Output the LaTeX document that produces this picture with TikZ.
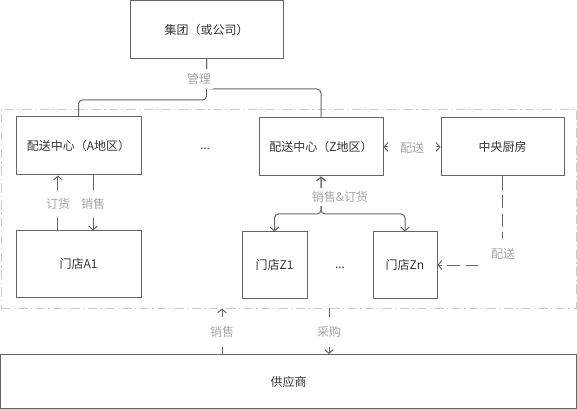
\documentclass[tikz,border=0pt]{standalone}
\usepackage{fontspec}
\setmainfont{Noto Sans CJK SC}
\usepackage{xcolor}
\usetikzlibrary{arrows.meta}
\definecolor{boxline}{HTML}{666666}
\definecolor{txt}{HTML}{333333}
\definecolor{lbl}{HTML}{A6A6A6}
\definecolor{zone}{HTML}{CCCCCC}

\begin{document}
\begin{tikzpicture}[x=0.75pt,y=-0.75pt,
    box/.style={draw=boxline,line width=0.75pt,inner sep=0pt,text=txt,
      font=\fontsize{9}{11}\selectfont,minimum height=43.5pt},
    tag/.style={fill=white,text=lbl,font=\fontsize{9}{11}\selectfont,inner xsep=1.5pt},
    link/.style={draw=boxline,line width=0.75pt},
    >={Straight Barb[length=2.8pt,width=6.5pt]}]
  \useasboundingbox (0,0) rectangle (577,409);
  % region of the distribution network
  \node[draw=zone,line width=0.75pt,dash pattern=on 7pt off 2.5pt on 1pt off 2.5pt,
    minimum width=431.25pt,minimum height=148.5pt] (R) at (288.5,209) {};
  \node[box,minimum width=114.75pt] (G) at (206.5,29.5) {集团（或公司）};
  \node[box,minimum width=93.75pt] (A) at (78.5,146) {配送中心（A地区）};
  \node[box,minimum width=93pt] (Z) at (321,147) {配送中心（Z地区）};
  \node[box,minimum width=92.25pt] (K) at (502.5,147) {中央厨房};
  \node[box,minimum width=93.75pt,minimum height=49.5pt] (A1) at (78.5,264) {门店A1};
  \node[box,minimum width=48.75pt,minimum height=49.5pt] (Z1) at (274.5,265) {门店Z1};
  \node[box,minimum width=48pt,minimum height=49.5pt] (Zn) at (405,265) {门店Zn};
  \node[box,minimum width=432pt,minimum height=40.5pt] (S) at (288.5,381.5) {供应商};
  \node[text=txt,font=\fontsize{9}{11}\selectfont] (d1) at (205,149) {...};
  \node[text=txt,font=\fontsize{9}{11}\selectfont] (d2) at (340,268) {...};
  % connectors
  \coordinate (ga) at (206.5,100);
  \coordinate (gz) at (206.5,89);
  \coordinate (zj) at (321,214);
  \coordinate (s1) at (222,354);
  \coordinate (s2) at (329,308);
  \draw[link,rounded corners=3pt] (G.south) -- (ga) -| (A.north);
  \draw[link,rounded corners=3pt] (G.south) -- (gz) -| (Z.north);
  \draw[link,->] ([xshift=-15.4pt]A1.north) -- ([xshift=-15.4pt]A.south);
  \draw[link,->] ([xshift=10.9pt]A.south) -- ([xshift=10.9pt]A1.north);
  \draw[link,<->,rounded corners=3pt] (Z.south) -- (zj) -| (Z1.north);
  \draw[link,<->,rounded corners=3pt] (Z.south) -- (zj) -| (Zn.north);
  \draw[link,<->] (Z.east) -- (K.west);
  \draw[link,->,dash pattern=on 10pt off 4pt] (K.south) |- (Zn.east);
  \draw[link,->] (s1) -- (s1 |- R.south);
  \draw[link,->] (s2) -- (s2 |- S.north);
  % labels
  \node[tag,inner ysep=3pt] (t1) at (199,79) {管理};
  \node[tag,inner ysep=6pt] (t2) at (58,204) {订货};
  \node[tag,inner ysep=6pt] (t3) at (93,204) {销售};
  \node[tag,inner ysep=2.25pt] (t4) at (340,197) {销售\&订货};
  \node[tag,inner xsep=9pt,inner ysep=1pt] (t5) at (412,148) {配送};
  \node[tag,inner xsep=9.75pt,inner ysep=7.5pt] (t6) at (503,254) {配送};
  \node[tag,inner ysep=7pt] (t7) at (222,332) {销售};
  \node[tag,inner ysep=7pt] (t8) at (329,332) {采购};
\end{tikzpicture}
\end{document}
